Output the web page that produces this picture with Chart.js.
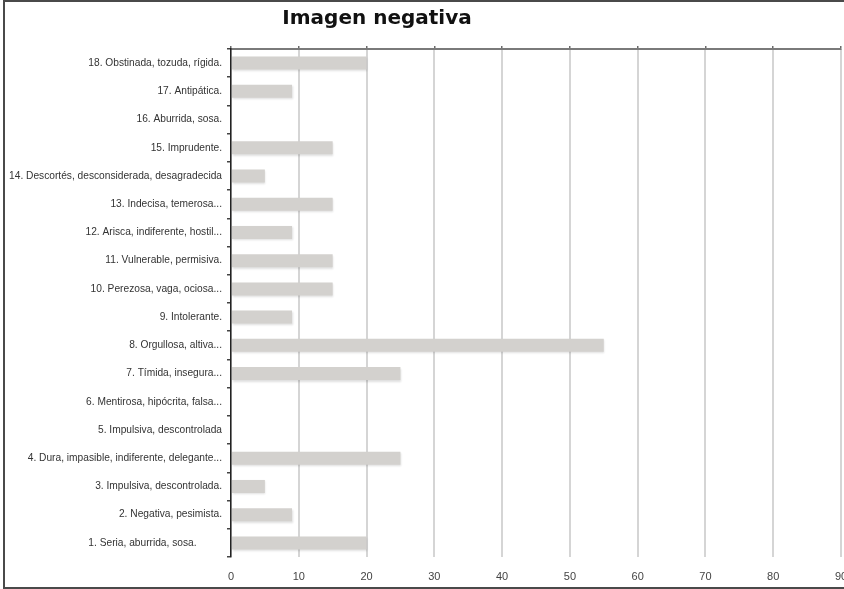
<!DOCTYPE html>
<html>
<head>
<meta charset="utf-8">
<script src="https://cdn.jsdelivr.net/npm/chart.js@4/dist/chart.umd.min.js"></script>
<style>
  html, body { margin: 0; padding: 0; background: #fff; overflow: hidden; }
  #wrap { position: relative; width: 844px; height: 589px; overflow: hidden; }
  #frame { position: absolute; left: 3px; top: 0; width: 900px; height: 585px;
           border: 2px solid #4a4a4a; pointer-events: none; }
  #cv { position: absolute; left: 0; top: 0; }
</style>
</head>
<body>
<div id="wrap">
  <canvas id="cv" width="880" height="589"></canvas>
  <div id="frame"></div>
</div>
<script>
// Categories, listed top to bottom
const categories = [
  '18. Obstinada, tozuda, rígida.',
  '17. Antipática.',
  '16. Aburrida, sosa.',
  '15. Imprudente.',
  '14. Descortés, desconsiderada, desagradecida',
  '13. Indecisa, temerosa...',
  '12. Arisca, indiferente, hostil...',
  '11. Vulnerable, permisiva.',
  '10. Perezosa, vaga, ociosa...',
  '9. Intolerante.',
  '8. Orgullosa, altiva...',
  '7. Tímida, insegura...',
  '6. Mentirosa, hipócrita, falsa...',
  '5. Impulsiva, descontrolada',
  '4. Dura, impasible, indiferente, delegante...',
  '3. Impulsiva, descontrolada.',
  '2. Negativa, pesimista.',
  '1. Seria, aburrida, sosa.         '
];
const values = [20, 9, 0, 15, 5, 15, 9, 15, 15, 9, 55, 25, 0, 0, 25, 5, 9, 20];
const xTicks = [0, 10, 20, 30, 40, 50, 60, 70, 80, 90];
const chartTitle = 'Imagen negativa';

const labelFamily = "'Liberation Sans Narrow', 'Arial Narrow', sans-serif";

// Title drawn at a fixed centre above the plot
const titlePlugin = {
  id: 'titleText',
  afterDraw(chart) {
    const ctx = chart.ctx;
    ctx.save();
    ctx.font = "bold 20px 'DejaVu Sans', sans-serif";
    ctx.fillStyle = '#111';
    ctx.textAlign = 'center';
    ctx.textBaseline = 'middle';
    ctx.fillText(chartTitle, 377, 19);
    ctx.restore();
  }
};

// Soft drop shadow under the bars
const barShadow = {
  id: 'barShadow',
  beforeDatasetsDraw(chart) {
    const ctx = chart.ctx;
    ctx.save();
    ctx.shadowColor = 'rgba(0,0,0,0.13)';
    ctx.shadowBlur = 2;
    ctx.shadowOffsetX = 0.5;
    ctx.shadowOffsetY = 1.5;
  },
  afterDatasetsDraw(chart) {
    chart.ctx.restore();
  }
};

new Chart(document.getElementById('cv'), {
  type: 'bar',
  data: {
    labels: categories,
    datasets: [{
      data: values,
      xAxisID: 'x',
      backgroundColor: '#d3d1ce',
      borderWidth: 0,
      barPercentage: 0.46,
      categoryPercentage: 1
    }]
  },
  options: {
    indexAxis: 'y',
    responsive: false,
    animation: false,
    layout: { padding: { left: 0, right: 39, top: 0, bottom: 0 } },
    plugins: { legend: { display: false }, title: { display: false }, tooltip: { enabled: false } },
    scales: {
      x: {
        type: 'linear',
        position: 'bottom',
        min: 0, max: 90,
        afterBuildTicks(scale) { scale.ticks = xTicks.map(v => ({ value: v })); },
        ticks: { color: '#444', font: { family: labelFamily, size: 11 }, padding: 13, maxRotation: 0 },
        grid: { color: '#d5d5d5', lineWidth: 2, drawTicks: false },
        border: { display: false },
        afterFit(scale) { scale.height = 32; }
      },
      x2: {
        type: 'linear',
        position: 'top',
        min: 0, max: 90,
        afterBuildTicks(scale) { scale.ticks = xTicks.map(v => ({ value: v })); },
        ticks: { display: false },
        grid: { drawOnChartArea: false, drawTicks: true, tickLength: 3, color: '#6a6a6a', lineWidth: 1.5 },
        border: { display: true, color: '#7a7a7a', width: 2 },
        afterFit(scale) { scale.height = 49; }
      },
      y: {
        type: 'category',
        position: 'left',
        ticks: { color: '#333', font: { family: labelFamily, size: 10.2 }, padding: 5, autoSkip: false },
        grid: { drawOnChartArea: false, drawTicks: true, tickLength: 4, color: '#444', lineWidth: 1.5, offset: true },
        border: { display: true, color: '#222', width: 1.5 },
        afterFit(scale) { scale.width = 231; }
      }
    }
  },
  plugins: [barShadow, titlePlugin]
});
</script>
</body>
</html>
